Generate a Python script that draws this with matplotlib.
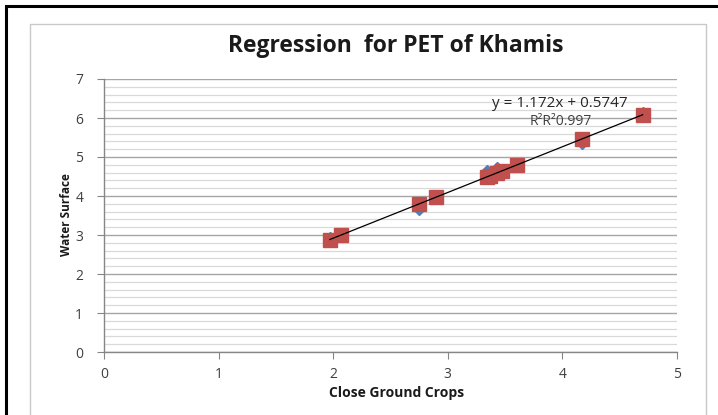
import matplotlib
matplotlib.use("Agg")
import matplotlib.pyplot as plt
from matplotlib.patches import Rectangle
from matplotlib.ticker import MultipleLocator

# Data
x_vals = [1.97, 2.07, 2.75, 2.90, 3.34, 3.37, 3.43, 3.47, 3.60, 4.17, 4.70]
actual_y = [2.90, 3.00, 3.70, 3.98, 4.62, 4.52, 4.70, 4.60, 4.80, 5.38, 6.10]
predicted_y = [2.88, 3.00, 3.80, 3.97, 4.49, 4.52, 4.59, 4.64, 4.79, 5.46, 6.08]
slope = 1.172
intercept = 0.5747
x_ticks = [0, 1, 2, 3, 4, 5]
y_ticks = [0, 1, 2, 3, 4, 5, 6, 7]
title = "Regression  for PET of Khamis"
x_label = "Close Ground Crops"
y_label = "Water Surface"
eq_text = "y = 1.172x + 0.5747"
r2_text = "R²R²0.997"

FONT = "Open Sans"

fig = plt.figure(figsize=(7.18, 4.15), dpi=100)
fig.patch.set_facecolor("white")

# outer black frame and inner grey chart-area frame
fig.patches.append(Rectangle((6 / 718, -0.05), 1.2, 1.05 - 6 / 415,
                             transform=fig.transFigure, fill=False,
                             edgecolor="black", linewidth=2.2))
fig.patches.append(Rectangle((30 / 718, -0.05), (706 - 30) / 718, 1.05 - 24 / 415,
                             transform=fig.transFigure, fill=False,
                             edgecolor="#c8c8c8", linewidth=1.0))

ax = fig.add_axes([104 / 718, (415 - 352) / 415, 573 / 718, 273 / 415])
ax.set_xlim(x_ticks[0], x_ticks[-1])
ax.set_ylim(y_ticks[0], y_ticks[-1])
ax.set_xticks(x_ticks)
ax.set_yticks(y_ticks)
ax.yaxis.set_minor_locator(MultipleLocator(0.2))

ax.grid(axis="y", which="major", color="#a6a6a6", linewidth=1.0, zorder=0)
ax.grid(axis="y", which="minor", color="#d9d9d9", linewidth=0.9, zorder=0)
ax.set_axisbelow(True)

for s in ["top", "right"]:
    ax.spines[s].set_visible(False)
for s in ["left", "bottom"]:
    ax.spines[s].set_color("#868686")
    ax.spines[s].set_linewidth(1.0)

ax.tick_params(axis="both", which="major", length=5, color="#868686",
               labelsize=10, labelcolor="#404040", direction="out")
ax.tick_params(axis="y", which="minor", length=0)
ax.tick_params(axis="x", pad=6)
ax.tick_params(axis="y", pad=10)
for lab in ax.get_xticklabels() + ax.get_yticklabels():
    lab.set_fontfamily(FONT)

ax.plot(x_vals, actual_y, linestyle="none", marker="D", markersize=7,
        color="#4f81bd", zorder=3)
ax.plot(x_vals, predicted_y, linestyle="none", marker="s", markersize=10,
        color="#c0504d", zorder=4)

x_line = [min(x_vals), max(x_vals)]
ax.plot(x_line, [slope * v + intercept for v in x_line], color="black",
        linewidth=0.9, zorder=5)

ax.text(3.98, 6.36, eq_text, fontsize=11, family=FONT, color="#262626",
        ha="center", va="center", zorder=6)
ax.text(3.99, 5.9, r2_text, fontsize=10, family=FONT, color="#404040",
        ha="center", va="center", zorder=6)

fig.text(396 / 718, 1 - 46 / 415, title, fontsize=16.5, fontweight="bold",
         family=FONT, ha="center", va="center", color="#1a1a1a")
fig.text(397 / 718, 1 - 393 / 415, x_label, fontsize=10, fontweight="bold",
         family=FONT, ha="center", va="center", color="#1a1a1a")
fig.text(66 / 718, 1 - 215 / 415, y_label, fontsize=8.5, fontweight="bold",
         family=FONT, ha="center", va="center", rotation=90, color="#1a1a1a")

fig.savefig("out.png", dpi=100)
